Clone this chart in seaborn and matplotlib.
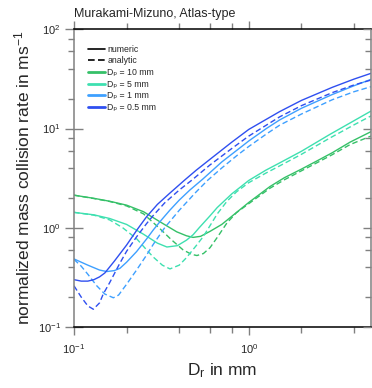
import numpy as np
import pandas as pd
import matplotlib
matplotlib.use("Agg")
import matplotlib.pyplot as plt
from matplotlib.lines import Line2D
from matplotlib.ticker import LogLocator, NullFormatter
import seaborn as sns

# ---------------- data ----------------
sizes = ["10 mm", "5 mm", "1 mm", "0.5 mm"]
colors = ["#35c068", "#3ee0b0", "#3ea0ff", "#2f4ff0"]

g_num_D = [0.1, 0.13, 0.16, 0.2, 0.25, 0.31, 0.387, 0.44, 0.48, 0.53, 0.6, 0.7, 0.81, 1.0, 1.32, 1.6, 2.0, 2.5, 3.0, 3.8, 5.0]
g_num_v = [2.13, 1.98, 1.85, 1.69, 1.45, 1.15, 0.91, 0.83, 0.80, 0.82, 0.92, 1.08, 1.33, 1.8, 2.6, 3.2, 3.9, 4.8, 5.7, 7.3, 9.3]
g_ana_D = [0.1, 0.13, 0.16, 0.2, 0.25, 0.31, 0.36, 0.42, 0.47, 0.505, 0.55, 0.6, 0.66, 0.75, 0.85, 1.0, 1.32, 1.6, 2.0, 2.5, 3.0, 3.8, 5.0]
g_ana_v = [2.13, 1.97, 1.84, 1.66, 1.38, 0.98, 0.76, 0.60, 0.54, 0.525, 0.55, 0.63, 0.8, 1.12, 1.42, 1.75, 2.5, 3.05, 3.75, 4.6, 5.45, 6.9, 8.4]

c_num_D = [0.1, 0.13, 0.16, 0.2, 0.25, 0.3, 0.34, 0.39, 0.44, 0.48, 0.52, 0.6, 0.66, 0.8, 1.0, 1.25, 1.5, 2.0, 2.9, 4.0, 5.0]
c_num_v = [1.43, 1.35, 1.24, 1.08, 0.86, 0.70, 0.64, 0.66, 0.75, 0.85, 1.0, 1.32, 1.6, 2.2, 3.0, 3.8, 4.5, 5.9, 8.7, 12.0, 15.0]
c_ana_D = [0.1, 0.13, 0.16, 0.19, 0.229, 0.26, 0.283, 0.32, 0.354, 0.4, 0.44, 0.5, 0.55, 0.6, 0.66, 0.75, 0.85, 1.0, 1.25, 1.5, 2.0, 2.9, 4.0, 5.0]
c_ana_v = [1.43, 1.34, 1.2, 1.0, 0.77, 0.6, 0.51, 0.42, 0.385, 0.42, 0.5, 0.66, 0.82, 1.05, 1.38, 1.85, 2.3, 2.85, 3.55, 4.2, 5.5, 8.0, 10.9, 13.4]

l_num_D = [0.1, 0.12, 0.14, 0.154, 0.17, 0.183, 0.2, 0.228, 0.26, 0.284, 0.31, 0.353, 0.4, 0.46, 0.546, 0.7, 0.85, 1.0, 1.26, 1.5, 2.0, 3.0, 4.0, 5.0]
l_num_v = [0.485, 0.42, 0.375, 0.362, 0.37, 0.39, 0.45, 0.575, 0.77, 0.95, 1.15, 1.5, 1.9, 2.4, 3.1, 4.6, 6.0, 7.5, 10.0, 12.2, 16.0, 22.0, 27.0, 31.3]
l_ana_D = [0.1, 0.11, 0.12, 0.135, 0.15, 0.168, 0.18, 0.2, 0.228, 0.26, 0.284, 0.33, 0.4, 0.5, 0.584, 0.7, 0.85, 1.0, 1.26, 1.5, 2.0, 3.0, 4.0, 5.0]
l_ana_v = [0.48, 0.41, 0.34, 0.26, 0.215, 0.197, 0.21, 0.27, 0.375, 0.53, 0.68, 1.0, 1.5, 2.3, 3.03, 4.0, 5.3, 6.6, 8.8, 10.8, 14.0, 19.5, 23.5, 26.4]

b_num_D = [0.1, 0.11, 0.12, 0.13, 0.14, 0.15, 0.17, 0.2, 0.23, 0.26, 0.3, 0.35, 0.43, 0.5, 0.6, 0.8, 1.0, 1.5, 2.0, 3.0, 4.0, 5.0]
b_num_v = [0.30, 0.29, 0.29, 0.30, 0.32, 0.35, 0.46, 0.67, 0.96, 1.29, 1.72, 2.2, 3.03, 3.8, 4.9, 7.3, 9.8, 14.8, 19.2, 26.0, 31.5, 36.0]
b_ana_D = [0.1, 0.11, 0.12, 0.129, 0.14, 0.147, 0.16, 0.183, 0.2, 0.228, 0.26, 0.284, 0.33, 0.4, 0.47, 0.6, 0.8, 1.0, 1.5, 2.0, 3.0, 4.0, 5.0]
b_ana_v = [0.26, 0.2, 0.163, 0.151, 0.175, 0.215, 0.28, 0.44, 0.58, 0.81, 1.1, 1.33, 1.78, 2.4, 3.0, 4.3, 6.3, 8.4, 13.1, 17.0, 23.0, 27.5, 30.8]

curves = [
    ("10 mm", "numeric", g_num_D, g_num_v), ("10 mm", "analytic", g_ana_D, g_ana_v),
    ("5 mm", "numeric", c_num_D, c_num_v), ("5 mm", "analytic", c_ana_D, c_ana_v),
    ("1 mm", "numeric", l_num_D, l_num_v), ("1 mm", "analytic", l_ana_D, l_ana_v),
    ("0.5 mm", "numeric", b_num_D, b_num_v), ("0.5 mm", "analytic", b_ana_D, b_ana_v),
]
rows = []
for size, kind, Ds, vs in curves:
    for d, v in zip(Ds, vs):
        rows.append({"D": d, "v": v, "Dp": size, "kind": kind})
df = pd.DataFrame(rows)

# ---------------- style ----------------
sns.set_theme(style="white")
plt.rcParams["font.family"] = ["Liberation Sans", "DejaVu Sans"]
plt.rcParams["mathtext.fontset"] = "custom"
plt.rcParams["mathtext.rm"] = "Liberation Sans"
plt.rcParams["mathtext.it"] = "Liberation Sans:italic"
plt.rcParams["mathtext.default"] = "regular"

GRAY = "#808080"
fig = plt.figure(figsize=(3.72, 3.88), dpi=100)
ax = fig.add_axes([74 / 372, 1 - 327 / 388, (371 - 74) / 372, (327 - 29.3) / 388])

palette = dict(zip(sizes, colors))
sns.lineplot(data=df, x="D", y="v", hue="Dp", style="kind", hue_order=sizes,
             style_order=["numeric", "analytic"], palette=palette,
             dashes={"numeric": "", "analytic": (4, 2.2)},
             estimator=None, sort=True, linewidth=1.0, legend=False, ax=ax)

ax.set_xscale("log")
ax.set_yscale("log")
ax.set_xlim(0.1, 5)
ax.set_ylim(0.1, 100)

for axis in (ax.xaxis, ax.yaxis):
    axis.set_major_locator(LogLocator(base=10))
    axis.set_minor_locator(LogLocator(base=10, subs=[2, 4, 6, 8]))
    axis.set_minor_formatter(NullFormatter())

ax.spines["left"].set_color(GRAY)
ax.spines["right"].set_color(GRAY)
ax.spines["top"].set_color("black")
ax.spines["bottom"].set_color("black")
for s in ax.spines.values():
    s.set_linewidth(1.1)

ax.tick_params(axis="x", which="both", direction="out", top=True, bottom=True,
               color=GRAY, width=1, labelsize=8, pad=5)
ax.tick_params(axis="x", which="major", length=6)
ax.tick_params(axis="x", which="minor", length=4)
ax.tick_params(axis="y", which="major", direction="inout", length=13, left=True, right=False,
               color=GRAY, width=1, labelsize=8, pad=3)
ax.tick_params(axis="y", which="minor", direction="out", length=4, left=True, right=False,
               color=GRAY, width=1)

axr = ax.twinx()
axr.set_yscale("log")
axr.set_ylim(0.1, 100)
axr.yaxis.set_major_locator(LogLocator(base=10))
axr.yaxis.set_minor_locator(LogLocator(base=10, subs=[2, 4, 6, 8]))
axr.tick_params(axis="y", which="both", direction="in", color=GRAY, width=1,
                labelright=False)
axr.tick_params(axis="y", which="major", length=6)
axr.tick_params(axis="y", which="minor", length=4)
for s in axr.spines.values():
    s.set_visible(False)

ax.set_xlabel(r"D$_\mathrm{r}$ in mm", fontsize=12.5, labelpad=4)
ax.set_ylabel(r"normalized mass collision rate in ms$^{-1}$", fontsize=12.5, labelpad=4)
ax.set_title("Murakami-Mizuno, Atlas-type", loc="left", fontsize=9, pad=9)

handles = [Line2D([], [], color="black", lw=1.2, label="numeric"),
           Line2D([], [], color="black", lw=1.2, dashes=(4, 2), label="analytic")]
for s, c in zip(sizes, colors):
    handles.append(Line2D([], [], color=c, lw=2, label="D\u209a = " + s))
ax.legend(handles=handles, loc="upper left", bbox_to_anchor=(0.047, 0.948),
          frameon=False, fontsize=6.3, handlelength=2.0, handletextpad=0.2,
          labelspacing=0.3, borderpad=0, borderaxespad=0)

fig.savefig("out.png", dpi=100)
